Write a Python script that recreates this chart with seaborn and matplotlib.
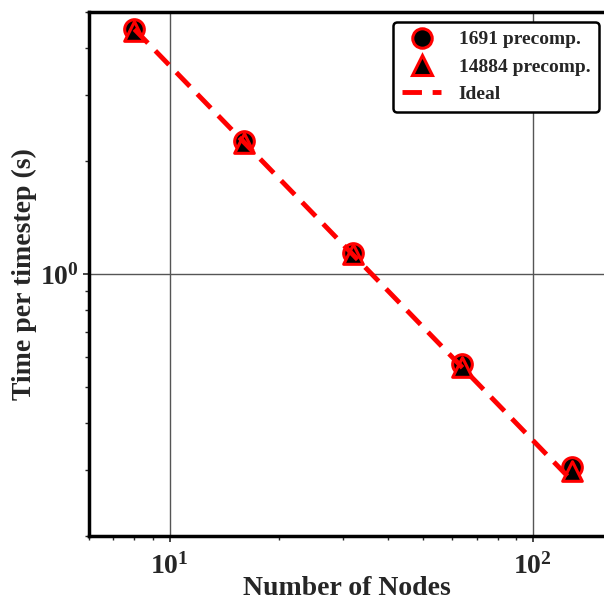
import matplotlib
matplotlib.use("Agg")
import matplotlib.pyplot as plt
import seaborn as sns
import pandas as pd
import numpy as np
from matplotlib.lines import Line2D
from matplotlib.ticker import FixedLocator, FixedFormatter, LogLocator, NullFormatter

nodes = [8, 16, 32, 64, 128]
t_1691 = [4.50, 2.27, 1.14, 0.575, 0.305]
t_14884 = [4.45, 2.24, 1.13, 0.565, 0.298]
t_ideal = [4.50, 2.25, 1.125, 0.5625, 0.28125]
labels = ["1691 precomp.", "14884 precomp.", "Ideal"]

sns.set_style("white")
plt.rcParams['font.family'] = ['Liberation Serif', 'DejaVu Serif']
plt.rcParams['font.weight'] = 'bold'
plt.rcParams['mathtext.fontset'] = 'custom'
plt.rcParams['mathtext.rm'] = 'Liberation Serif:bold'
plt.rcParams['mathtext.bf'] = 'Liberation Serif:bold'
plt.rcParams['mathtext.it'] = 'Liberation Serif:bold'

fig = plt.figure(figsize=(6.04, 6.0), dpi=100)
ax = fig.add_axes([89/604, 1-536/600, 1-89/604, (536-12)/600])

df1 = pd.DataFrame({"x": nodes, "y": t_1691})
df2 = pd.DataFrame({"x": nodes, "y": t_14884})
dfi = pd.DataFrame({"x": nodes, "y": t_ideal})

ax.set_xscale('log')
ax.set_yscale('log')

sns.scatterplot(data=df1, x="x", y="y", ax=ax, marker='o', s=200, color='black',
                edgecolor='red', linewidth=2.2, zorder=3)
sns.scatterplot(data=df2, x="x", y="y", ax=ax, marker='^', s=200, color='black',
                edgecolor='red', linewidth=2.2, zorder=4)
sns.lineplot(data=dfi, x="x", y="y", ax=ax, color='red', linewidth=3.5, zorder=5)
ax.lines[-1].set_dashes([4, 2.2])

ax.set_xlim(6, 157)
ax.set_ylim(0.2, 5)

ax.xaxis.set_major_locator(FixedLocator([10, 100]))
ax.xaxis.set_major_formatter(FixedFormatter([r'$\mathbf{10^{1}}$', r'$\mathbf{10^{2}}$']))
ax.xaxis.set_minor_locator(LogLocator(base=10, subs=np.arange(2, 10)))
ax.xaxis.set_minor_formatter(NullFormatter())
ax.yaxis.set_major_locator(FixedLocator([1]))
ax.yaxis.set_major_formatter(FixedFormatter([r'$\mathbf{10^{0}}$']))
ax.yaxis.set_minor_locator(LogLocator(base=10, subs=np.arange(2, 10)))
ax.yaxis.set_minor_formatter(NullFormatter())

ax.tick_params(axis='both', which='major', labelsize=20, length=4, width=1.2,
               direction='out', left=True, bottom=True)
ax.tick_params(axis='x', which='major', pad=8)
ax.tick_params(axis='y', which='major', pad=3)
ax.tick_params(axis='both', which='minor', length=3, width=1.0, direction='out',
               left=True, bottom=True)

ax.grid(True, which='major', color='#555555', linewidth=1.0)
ax.grid(False, which='minor')

for side in ['left', 'bottom', 'top']:
    ax.spines[side].set_color('black')
    ax.spines[side].set_linewidth(2.5)
ax.spines['right'].set_visible(False)

ax.set_xlabel("Number of Nodes", fontsize=20, fontweight='bold')
ax.set_ylabel("Time per timestep (s)", fontsize=20, fontweight='bold')
ax.xaxis.set_label_coords(0.5, (536-576)/524)
ax.yaxis.set_label_coords((37-89)/515, 0.5)

handles = [
    Line2D([], [], marker='o', color='none', markerfacecolor='black', markeredgecolor='red',
           markeredgewidth=2.2, markersize=14, linestyle='none'),
    Line2D([], [], marker='^', color='none', markerfacecolor='black', markeredgecolor='red',
           markeredgewidth=2.2, markersize=14, linestyle='none'),
    Line2D([], [], color='red', linewidth=3.5, dashes=[4, 2.2]),
]
leg = ax.legend(handles, labels, loc='upper right',
                prop={'weight': 'bold', 'size': 14, 'family': 'Liberation Serif'},
                frameon=True, fancybox=True, edgecolor='black', framealpha=1,
                borderpad=0.45, handlelength=2.0, labelspacing=0.5, handletextpad=0.9,
                borderaxespad=0,
                bbox_to_anchor=((599-89)/515, (536-22)/524))
leg.get_frame().set_linewidth(1.8)

fig.savefig("out.png", dpi=100)
